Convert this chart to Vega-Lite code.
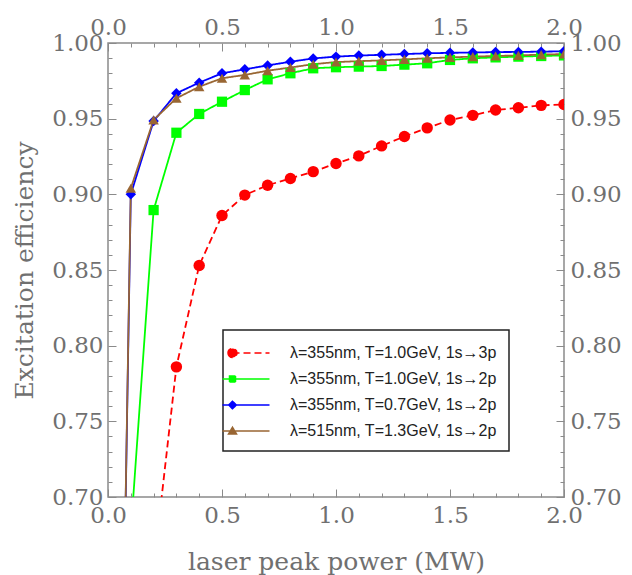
{
  "$schema": "https://vega.github.io/schema/vega-lite/v6.json",
  "autosize": {"type": "none"},
  "width": 456,
  "height": 454,
  "padding": {"left": 108, "top": 43, "right": 68, "bottom": 78},
  "background": "white",
  "config": {
    "view": {"stroke": "#8a8a8a", "strokeWidth": 1.5},
    "legend": {"strokeWidth": 1.5},
    "axis": {
      "grid": false, "domain": false, "labelFont": "DejaVu Serif", "labelFontSize": 23, "labelColor": "#707070",
      "titleFont": "DejaVu Serif", "titleFontSize": 25, "titleColor": "#707070", "titleFontWeight": "normal",
      "tickColor": "#8a8a8a", "tickWidth": 1, "labelFlush": false, "labelOverlap": false, "labelBound": false
    }
  },
  "data": {"values": [
    {"x": 0, "y": 0, "s": "λ=355nm, T=1.0GeV, 1s→3p"},
    {"x": 0.1, "y": 0.45, "s": "λ=355nm, T=1.0GeV, 1s→3p"},
    {"x": 0.2, "y": 0.653, "s": "λ=355nm, T=1.0GeV, 1s→3p"},
    {"x": 0.3, "y": 0.786, "s": "λ=355nm, T=1.0GeV, 1s→3p"},
    {"x": 0.4, "y": 0.853, "s": "λ=355nm, T=1.0GeV, 1s→3p"},
    {"x": 0.5, "y": 0.886, "s": "λ=355nm, T=1.0GeV, 1s→3p"},
    {"x": 0.6, "y": 0.8995, "s": "λ=355nm, T=1.0GeV, 1s→3p"},
    {"x": 0.7, "y": 0.906, "s": "λ=355nm, T=1.0GeV, 1s→3p"},
    {"x": 0.8, "y": 0.9105, "s": "λ=355nm, T=1.0GeV, 1s→3p"},
    {"x": 0.9, "y": 0.915, "s": "λ=355nm, T=1.0GeV, 1s→3p"},
    {"x": 1.0, "y": 0.9204, "s": "λ=355nm, T=1.0GeV, 1s→3p"},
    {"x": 1.1, "y": 0.9254, "s": "λ=355nm, T=1.0GeV, 1s→3p"},
    {"x": 1.2, "y": 0.932, "s": "λ=355nm, T=1.0GeV, 1s→3p"},
    {"x": 1.3, "y": 0.9382, "s": "λ=355nm, T=1.0GeV, 1s→3p"},
    {"x": 1.4, "y": 0.9439, "s": "λ=355nm, T=1.0GeV, 1s→3p"},
    {"x": 1.5, "y": 0.9491, "s": "λ=355nm, T=1.0GeV, 1s→3p"},
    {"x": 1.6, "y": 0.9522, "s": "λ=355nm, T=1.0GeV, 1s→3p"},
    {"x": 1.7, "y": 0.9557, "s": "λ=355nm, T=1.0GeV, 1s→3p"},
    {"x": 1.8, "y": 0.9572, "s": "λ=355nm, T=1.0GeV, 1s→3p"},
    {"x": 1.9, "y": 0.9588, "s": "λ=355nm, T=1.0GeV, 1s→3p"},
    {"x": 2.0, "y": 0.9594, "s": "λ=355nm, T=1.0GeV, 1s→3p"},
    {"x": 0, "y": 0, "s": "λ=355nm, T=1.0GeV, 1s→2p"},
    {"x": 0.1, "y": 0.677, "s": "λ=355nm, T=1.0GeV, 1s→2p"},
    {"x": 0.2, "y": 0.8896, "s": "λ=355nm, T=1.0GeV, 1s→2p"},
    {"x": 0.3, "y": 0.9407, "s": "λ=355nm, T=1.0GeV, 1s→2p"},
    {"x": 0.4, "y": 0.9531, "s": "λ=355nm, T=1.0GeV, 1s→2p"},
    {"x": 0.5, "y": 0.9612, "s": "λ=355nm, T=1.0GeV, 1s→2p"},
    {"x": 0.6, "y": 0.9689, "s": "λ=355nm, T=1.0GeV, 1s→2p"},
    {"x": 0.7, "y": 0.976, "s": "λ=355nm, T=1.0GeV, 1s→2p"},
    {"x": 0.8, "y": 0.98, "s": "λ=355nm, T=1.0GeV, 1s→2p"},
    {"x": 0.9, "y": 0.9833, "s": "λ=355nm, T=1.0GeV, 1s→2p"},
    {"x": 1.0, "y": 0.984, "s": "λ=355nm, T=1.0GeV, 1s→2p"},
    {"x": 1.1, "y": 0.9844, "s": "λ=355nm, T=1.0GeV, 1s→2p"},
    {"x": 1.2, "y": 0.9848, "s": "λ=355nm, T=1.0GeV, 1s→2p"},
    {"x": 1.3, "y": 0.9857, "s": "λ=355nm, T=1.0GeV, 1s→2p"},
    {"x": 1.4, "y": 0.9866, "s": "λ=355nm, T=1.0GeV, 1s→2p"},
    {"x": 1.5, "y": 0.9888, "s": "λ=355nm, T=1.0GeV, 1s→2p"},
    {"x": 1.6, "y": 0.9899, "s": "λ=355nm, T=1.0GeV, 1s→2p"},
    {"x": 1.7, "y": 0.9905, "s": "λ=355nm, T=1.0GeV, 1s→2p"},
    {"x": 1.8, "y": 0.991, "s": "λ=355nm, T=1.0GeV, 1s→2p"},
    {"x": 1.9, "y": 0.9914, "s": "λ=355nm, T=1.0GeV, 1s→2p"},
    {"x": 2.0, "y": 0.9918, "s": "λ=355nm, T=1.0GeV, 1s→2p"},
    {"x": 0, "y": 0, "s": "λ=355nm, T=0.7GeV, 1s→2p"},
    {"x": 0.1, "y": 0.9, "s": "λ=355nm, T=0.7GeV, 1s→2p"},
    {"x": 0.2, "y": 0.9484, "s": "λ=355nm, T=0.7GeV, 1s→2p"},
    {"x": 0.3, "y": 0.9668, "s": "λ=355nm, T=0.7GeV, 1s→2p"},
    {"x": 0.4, "y": 0.9738, "s": "λ=355nm, T=0.7GeV, 1s→2p"},
    {"x": 0.5, "y": 0.98, "s": "λ=355nm, T=0.7GeV, 1s→2p"},
    {"x": 0.6, "y": 0.9826, "s": "λ=355nm, T=0.7GeV, 1s→2p"},
    {"x": 0.7, "y": 0.9852, "s": "λ=355nm, T=0.7GeV, 1s→2p"},
    {"x": 0.8, "y": 0.9876, "s": "λ=355nm, T=0.7GeV, 1s→2p"},
    {"x": 0.9, "y": 0.9898, "s": "λ=355nm, T=0.7GeV, 1s→2p"},
    {"x": 1.0, "y": 0.991, "s": "λ=355nm, T=0.7GeV, 1s→2p"},
    {"x": 1.1, "y": 0.9917, "s": "λ=355nm, T=0.7GeV, 1s→2p"},
    {"x": 1.2, "y": 0.9922, "s": "λ=355nm, T=0.7GeV, 1s→2p"},
    {"x": 1.3, "y": 0.9927, "s": "λ=355nm, T=0.7GeV, 1s→2p"},
    {"x": 1.4, "y": 0.9932, "s": "λ=355nm, T=0.7GeV, 1s→2p"},
    {"x": 1.5, "y": 0.9935, "s": "λ=355nm, T=0.7GeV, 1s→2p"},
    {"x": 1.6, "y": 0.9937, "s": "λ=355nm, T=0.7GeV, 1s→2p"},
    {"x": 1.7, "y": 0.994, "s": "λ=355nm, T=0.7GeV, 1s→2p"},
    {"x": 1.8, "y": 0.9941, "s": "λ=355nm, T=0.7GeV, 1s→2p"},
    {"x": 1.9, "y": 0.9943, "s": "λ=355nm, T=0.7GeV, 1s→2p"},
    {"x": 2.0, "y": 0.9945, "s": "λ=355nm, T=0.7GeV, 1s→2p"},
    {"x": 0, "y": 0, "s": "λ=515nm, T=1.3GeV, 1s→2p"},
    {"x": 0.1, "y": 0.904, "s": "λ=515nm, T=1.3GeV, 1s→2p"},
    {"x": 0.2, "y": 0.9492, "s": "λ=515nm, T=1.3GeV, 1s→2p"},
    {"x": 0.3, "y": 0.9635, "s": "λ=515nm, T=1.3GeV, 1s→2p"},
    {"x": 0.4, "y": 0.9711, "s": "λ=515nm, T=1.3GeV, 1s→2p"},
    {"x": 0.5, "y": 0.9767, "s": "λ=515nm, T=1.3GeV, 1s→2p"},
    {"x": 0.6, "y": 0.9789, "s": "λ=515nm, T=1.3GeV, 1s→2p"},
    {"x": 0.7, "y": 0.9817, "s": "λ=515nm, T=1.3GeV, 1s→2p"},
    {"x": 0.8, "y": 0.9838, "s": "λ=515nm, T=1.3GeV, 1s→2p"},
    {"x": 0.9, "y": 0.986, "s": "λ=515nm, T=1.3GeV, 1s→2p"},
    {"x": 1.0, "y": 0.9874, "s": "λ=515nm, T=1.3GeV, 1s→2p"},
    {"x": 1.1, "y": 0.988, "s": "λ=515nm, T=1.3GeV, 1s→2p"},
    {"x": 1.2, "y": 0.9885, "s": "λ=515nm, T=1.3GeV, 1s→2p"},
    {"x": 1.3, "y": 0.9892, "s": "λ=515nm, T=1.3GeV, 1s→2p"},
    {"x": 1.4, "y": 0.9899, "s": "λ=515nm, T=1.3GeV, 1s→2p"},
    {"x": 1.5, "y": 0.9905, "s": "λ=515nm, T=1.3GeV, 1s→2p"},
    {"x": 1.6, "y": 0.991, "s": "λ=515nm, T=1.3GeV, 1s→2p"},
    {"x": 1.7, "y": 0.9914, "s": "λ=515nm, T=1.3GeV, 1s→2p"},
    {"x": 1.8, "y": 0.9918, "s": "λ=515nm, T=1.3GeV, 1s→2p"},
    {"x": 1.9, "y": 0.9923, "s": "λ=515nm, T=1.3GeV, 1s→2p"},
    {"x": 2.0, "y": 0.9927, "s": "λ=515nm, T=1.3GeV, 1s→2p"}
  ]},
  "resolve": {"axis": {"x": "independent", "y": "independent"}},
  "layer": [
    {
      "mark": {"type": "line", "clip": true, "strokeWidth": 1.8},
      "encoding": {
        "x": {"field": "x", "type": "quantitative", "scale": {"domain": [0, 2]},
          "axis": {"orient": "bottom", "title": "laser peak power (MW)", "titlePadding": 18,
            "values": [0,0.1,0.2,0.3,0.4,0.5,0.6,0.7,0.8,0.9,1.0,1.1,1.2,1.3,1.4,1.5,1.6,1.7,1.8,1.9,2.0],
            "tickSize": {"condition": {"test": "round(datum.value*10) % 5 == 0", "value": -8}, "value": -4},
            "labelPadding": 15,
            "labelExpr": "round(datum.value*10) % 5 == 0 ? format(datum.value, '.1f') : ''"}},
        "y": {"field": "y", "type": "quantitative", "scale": {"domain": [0.7, 1.0]},
          "axis": {"orient": "left", "title": "Excitation efficiency", "titlePadding": 14,
            "values": [0.7,0.71,0.72,0.73,0.74,0.75,0.76,0.77,0.78,0.79,0.8,0.81,0.82,0.83,0.84,0.85,0.86,0.87,0.88,0.89,0.9,0.91,0.92,0.93,0.94,0.95,0.96,0.97,0.98,0.99,1.0],
            "tickSize": {"condition": {"test": "round(datum.value*100) % 5 == 0", "value": -8}, "value": -4},
            "labelPadding": 13,
            "labelExpr": "round(datum.value*100) % 5 == 0 ? format(datum.value, '.2f') : ''"}},
        "color": {"field": "s", "type": "nominal",
          "scale": {"domain": ["λ=355nm, T=0.7GeV, 1s→2p", "λ=355nm, T=1.0GeV, 1s→2p", "λ=355nm, T=1.0GeV, 1s→3p", "λ=515nm, T=1.3GeV, 1s→2p"],
            "range": ["#0000ff", "#00ff00", "#ff0000", "#996633"]}, "legend": null},
        "strokeDash": {"field": "s", "type": "nominal",
          "scale": {"domain": ["λ=355nm, T=1.0GeV, 1s→3p", "λ=355nm, T=1.0GeV, 1s→2p", "λ=355nm, T=0.7GeV, 1s→2p", "λ=515nm, T=1.3GeV, 1s→2p"],
            "range": [[7, 4], [1, 0], [1, 0], [1, 0]]}}
      }
    },
    {
      "transform": [{"filter": "datum.s == 'λ=355nm, T=1.0GeV, 1s→3p'"}],
      "mark": {"type": "point", "shape": "circle", "filled": true, "opacity": 1, "size": 130, "clip": true},
      "encoding": {
        "x": {"field": "x", "type": "quantitative",
          "axis": {"orient": "top", "title": null,
            "values": [0,0.1,0.2,0.3,0.4,0.5,0.6,0.7,0.8,0.9,1.0,1.1,1.2,1.3,1.4,1.5,1.6,1.7,1.8,1.9,2.0],
            "tickSize": {"condition": {"test": "round(datum.value*10) % 5 == 0", "value": -8}, "value": -4},
            "labelPadding": 12,
            "labelExpr": "round(datum.value*10) % 5 == 0 ? format(datum.value, '.1f') : ''"}},
        "y": {"field": "y", "type": "quantitative",
          "axis": {"orient": "right", "title": null,
            "values": [0.7,0.71,0.72,0.73,0.74,0.75,0.76,0.77,0.78,0.79,0.8,0.81,0.82,0.83,0.84,0.85,0.86,0.87,0.88,0.89,0.9,0.91,0.92,0.93,0.94,0.95,0.96,0.97,0.98,0.99,1.0],
            "tickSize": {"condition": {"test": "round(datum.value*100) % 5 == 0", "value": -8}, "value": -4},
            "labelPadding": 14,
            "labelExpr": "round(datum.value*100) % 5 == 0 ? format(datum.value, '.2f') : ''"}},
        "color": {"field": "s", "type": "nominal", "legend": null}
      }
    },
    {
      "transform": [{"filter": "datum.s == 'λ=355nm, T=1.0GeV, 1s→2p'"}],
      "mark": {"type": "point", "shape": "square", "filled": true, "opacity": 1, "size": 105, "clip": true},
      "encoding": {
        "x": {"field": "x", "type": "quantitative", "axis": null},
        "y": {"field": "y", "type": "quantitative", "axis": null},
        "color": {"field": "s", "type": "nominal", "legend": null}
      }
    },
    {
      "transform": [{"filter": "datum.s == 'λ=355nm, T=0.7GeV, 1s→2p'"}],
      "mark": {"type": "point", "shape": "diamond", "filled": true, "opacity": 1, "size": 110, "clip": true},
      "encoding": {
        "x": {"field": "x", "type": "quantitative", "axis": null},
        "y": {"field": "y", "type": "quantitative", "axis": null},
        "color": {"field": "s", "type": "nominal", "legend": null}
      }
    },
    {
      "transform": [{"filter": "datum.s == 'λ=515nm, T=1.3GeV, 1s→2p'"}],
      "mark": {"type": "point", "shape": "triangle-up", "filled": true, "opacity": 1, "size": 110, "clip": true},
      "encoding": {
        "x": {"field": "x", "type": "quantitative", "axis": null},
        "y": {"field": "y", "type": "quantitative", "axis": null},
        "color": {"field": "s", "type": "nominal", "legend": null}
      }
    },
    {
      "transform": [{"filter": "datum.x == 0"}],
      "mark": {"type": "point", "filled": true, "opacity": 1, "clip": true},
      "encoding": {
        "x": {"field": "x", "type": "quantitative", "axis": null},
        "y": {"field": "y", "type": "quantitative", "axis": null},
        "fill": {"field": "s", "type": "nominal",
          "scale": {"domain": ["λ=355nm, T=1.0GeV, 1s→3p", "λ=355nm, T=1.0GeV, 1s→2p", "λ=355nm, T=0.7GeV, 1s→2p", "λ=515nm, T=1.3GeV, 1s→2p"],
            "range": ["#ff0000", "#00ff00", "#0000ff", "#996633"]},
          "legend": {"title": null, "orient": "none", "legendX": 115, "legendY": 287, "padding": 12,
            "strokeColor": "#222222", "fillColor": "#ffffff", "symbolSize": 400, "symbolStrokeWidth": 1.5, "symbolOpacity": 1,
            "labelFont": "Liberation Sans", "labelFontSize": 16, "labelColor": "#222222", "labelOffset": 33, "rowPadding": 7,
            "labelLimit": 400,
            "labelExpr": "datum.label + '\u2003\u2002'"}},
        "stroke": {"field": "s", "type": "nominal",
          "scale": {"domain": ["λ=355nm, T=1.0GeV, 1s→3p", "λ=355nm, T=1.0GeV, 1s→2p", "λ=355nm, T=0.7GeV, 1s→2p", "λ=515nm, T=1.3GeV, 1s→2p"],
            "range": ["#ff0000", "#00ff00", "#0000ff", "#996633"]},
          "legend": {"title": null, "orient": "none", "legendX": 115, "legendY": 287}},
        "shape": {"field": "s", "type": "nominal",
          "scale": {"domain": ["λ=355nm, T=1.0GeV, 1s→3p", "λ=355nm, T=1.0GeV, 1s→2p", "λ=355nm, T=0.7GeV, 1s→2p", "λ=515nm, T=1.3GeV, 1s→2p"],
            "range": [
              "M-1.35,0L2.35,0M-1.8,0A0.45,0.45,0,1,0,-0.9,0A0.45,0.45,0,1,0,-1.8,0Z",
              "M-2.35,0L2.35,0M-1.65,-0.3L-1.05,-0.3L-1.05,0.3L-1.65,0.3Z",
              "M-2.35,0L2.35,0M-1.35,-0.38L-0.97,0L-1.35,0.38L-1.73,0Z",
              "M-2.35,0L2.35,0M-1.35,-0.38L-0.95,0.3L-1.75,0.3Z"]},
          "legend": {"title": null, "orient": "none", "legendX": 115, "legendY": 287}},
        "strokeDash": {"field": "s", "type": "nominal",
          "legend": {"title": null, "orient": "none", "legendX": 115, "legendY": 287}}
      }
    }
  ]
}
